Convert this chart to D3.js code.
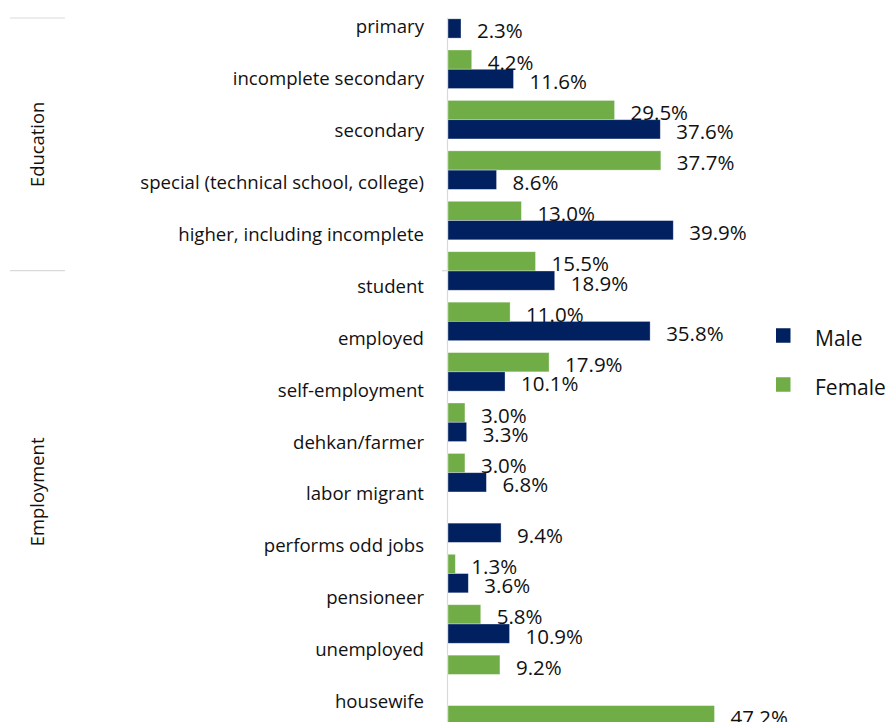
<!DOCTYPE html>
<html>
<head>
<meta charset="utf-8">
<script src="https://cdn.jsdelivr.net/npm/d3@7"></script>
<style>
  html, body { margin: 0; padding: 0; background: #ffffff; }
  svg { display: block; font-family: "Open Sans", "Noto Sans", sans-serif; }
</style>
</head>
<body>
<svg id="chart"></svg>
<script>
// Category labels on the left axis
const categories = [
  "primary",
  "incomplete secondary",
  "secondary",
  "special (technical school, college)",
  "higher, including incomplete",
  "student",
  "employed",
  "self-employment",
  "dehkan/farmer",
  "labor migrant",
  "performs odd jobs",
  "pensioneer",
  "unemployed",
  "housewife"
];

// Category groups and how many categories each spans
const groupNames = ["Education", "Employment"];
const groupSizes = [5, 9];

// Series (drawn top to bottom within each row)
const seriesNames = ["Female", "Male"];
const legendNames = ["Male", "Female"];

// Shares in percent, one entry per bar row (null = no bar)
const femaleValues = [null, 4.2, 29.5, 37.7, 13.0, 15.5, 11.0, 17.9, 3.0, 3.0, null, 1.3, 5.8, 9.2, 47.2];
const maleValues   = [2.3, 11.6, 37.6, 8.6, 39.9, 18.9, 35.8, 10.1, 3.3, 6.8, 9.4, 3.6, 10.9, null, null];

const width = 885, height = 722;
const colors = { Male: "#002060", Female: "#70AD47" };
const textColor = "#111111";
const lineColor = "#d9d9d9";

const svg = d3.select("#chart").attr("width", width).attr("height", height);

// Horizontal value scale
const x = d3.scaleLinear().domain([0, 50]).range([448, 448 + 282.3]);

// Bar rows
const rows = d3.range(femaleValues.length);
const rowStep = 50.43;
const rowTop = -6.38;
const yRow = d3.scaleBand()
  .domain(rows)
  .range([rowTop, rowTop + rows.length * rowStep])
  .paddingInner(0.236)
  .paddingOuter(0.118);
const ySeries = d3.scaleBand().domain(seriesNames).range([0, yRow.bandwidth()]);

const barData = [];
rows.forEach(i => {
  if (femaleValues[i] != null) barData.push({ row: i, series: "Female", value: femaleValues[i] });
  if (maleValues[i] != null) barData.push({ row: i, series: "Male", value: maleValues[i] });
});

// Axis line along the category axis
const axisTop = 18;
svg.append("line")
  .attr("x1", 447.5).attr("x2", 447.5)
  .attr("y1", axisTop).attr("y2", height)
  .attr("stroke", lineColor).attr("stroke-width", 1.2);

// Bars
svg.append("g").selectAll("rect")
  .data(barData)
  .join("rect")
  .attr("x", x(0))
  .attr("y", d => yRow(d.row) + ySeries(d.series))
  .attr("width", d => x(d.value) - x(0))
  .attr("height", ySeries.bandwidth())
  .attr("fill", d => colors[d.series])
  .attr("stroke", "#ffffff")
  .attr("stroke-opacity", 0.45)
  .attr("stroke-width", 0.75);

// Value labels at the bar ends
svg.append("g").selectAll("text")
  .data(barData)
  .join("text")
  .attr("x", d => x(d.value) + 16)
  .attr("y", d => yRow(d.row) + ySeries(d.series) + ySeries.bandwidth() / 2 + 2)
  .attr("dominant-baseline", "central")
  .attr("font-size", 20.5)
  .attr("fill", textColor)
  .text(d => d.value.toFixed(1) + "%");

// Category labels
const yLabel = d3.scalePoint().domain(categories).range([26.7, 701.7]);
const catAxis = svg.append("g")
  .attr("transform", "translate(446,0)")
  .call(d3.axisLeft(yLabel).tickSize(0).tickPadding(22));
catAxis.select(".domain").remove();
catAxis.selectAll("text")
  .attr("font-size", 18.6)
  .attr("font-family", "\"Open Sans\", \"Noto Sans\", sans-serif")
  .attr("fill", textColor);

// Group separators and rotated group labels
const groupStep = 50.54;
const plotBottom = height - 9;
const yGroup = d3.scaleLinear().domain([0, categories.length]).range([axisTop, axisTop + categories.length * groupStep]);
const groupStarts = d3.cumsum([0].concat(groupSizes.slice(0, -1)));
const groupData = groupNames.map((name, i) => {
  const y0 = yGroup(groupStarts[i]);
  const y1 = Math.min(yGroup(groupStarts[i] + groupSizes[i]), plotBottom);
  return { name, y0, y1 };
});

svg.append("g").selectAll("line")
  .data(groupData)
  .join("line")
  .attr("x1", 10).attr("x2", 65)
  .attr("y1", d => d.y0).attr("y2", d => d.y0)
  .attr("stroke", lineColor).attr("stroke-width", 1.2);

svg.append("g").selectAll("line")
  .data(groupData.slice(1))
  .join("line")
  .attr("x1", 442).attr("x2", 447)
  .attr("y1", d => d.y0).attr("y2", d => d.y0)
  .attr("stroke", lineColor).attr("stroke-width", 1.2);

svg.append("g").selectAll("text")
  .data(groupData)
  .join("text")
  .attr("transform", d => `translate(36,${(d.y0 + d.y1) / 2}) rotate(-90)`)
  .attr("text-anchor", "middle")
  .attr("dominant-baseline", "central")
  .attr("font-size", 18.4)
  .attr("fill", textColor)
  .text(d => d.name);

// Legend
const legendY = d3.scalePoint().domain(legendNames).range([335.5, 384.5]);
const legend = svg.append("g").selectAll("g")
  .data(legendNames)
  .join("g")
  .attr("transform", d => `translate(776,${legendY(d)})`);
legend.append("rect")
  .attr("x", 0).attr("y", -7.25)
  .attr("width", 14.5).attr("height", 14.5)
  .attr("fill", d => colors[d]);
legend.append("text")
  .attr("x", 39).attr("y", 2)
  .attr("dominant-baseline", "central")
  .attr("font-size", 21)
  .attr("fill", textColor)
  .text(d => d);
</script>
</body>
</html>
